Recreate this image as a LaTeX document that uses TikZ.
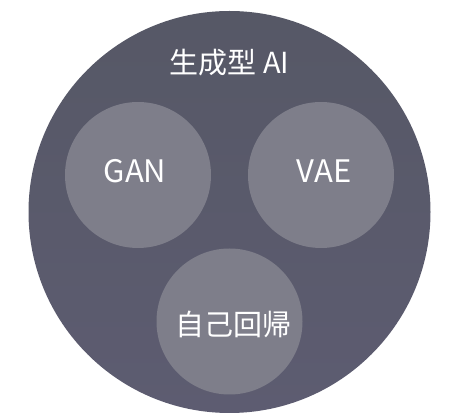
\documentclass[tikz,border=0pt]{standalone}
\usepackage{fontspec}
\setmainfont{Noto Sans CJK JP}
\begin{document}
\begin{tikzpicture}[x=1pt,y=1pt,
  inner/.style={circle, fill=smallc, minimum size=146pt, inner sep=0pt},
  lbl/.style={text=white, font=\fontsize{29}{30}\selectfont},
  lat/.style={text=white, font=\fontsize{31}{32}\selectfont}]
\definecolor{bigtop}{HTML}{565866}
\definecolor{bigbot}{HTML}{5D5C71}
\definecolor{smallc}{HTML}{7E7E8A}
\useasboundingbox (0,0) rectangle (458,420);
\fill[white] (0,0) rectangle (458,420);
\shade[top color=bigtop, bottom color=bigbot] (229.5,208) circle (201);
\node[inner] (gan) at (138,245) {};
\node[inner] (vae) at (321,245) {};
\node[inner] (ar) at (229.5,98.5) {};
\node[lat] (tgan) at (135,249) {GAN};
\node[lat] (tvae) at (324,249) {VAE};
\node[lbl] (tar) at (233,96) {自己回帰};
\node[lbl] (title) at (229.5,357) {生成型 AI};
\end{tikzpicture}
\end{document}
